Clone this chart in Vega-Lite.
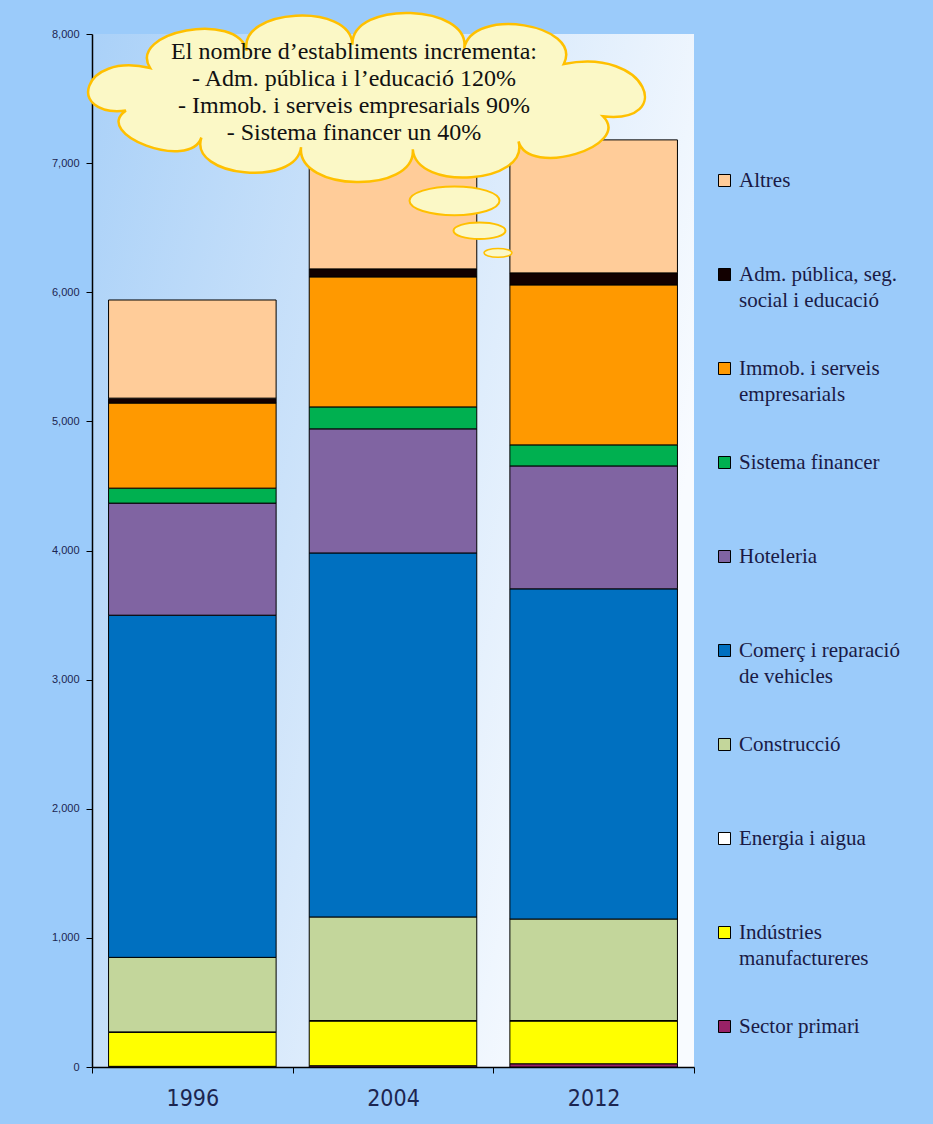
{
  "$schema": "https://vega.github.io/schema/vega-lite/v6.json",
  "width": 602,
  "height": 1033,
  "autosize": {"type": "none"},
  "padding": {"left": 92, "top": 34, "right": 239, "bottom": 57},
  "background": "#9BCBFA",
  "config": {
    "view": {
      "stroke": null,
      "fill": {
        "gradient": "linear", "x1": 0, "y1": 0, "x2": 1, "y2": 0.4,
        "stops": [
          {"offset": 0, "color": "#AAD1F8"},
          {"offset": 0.45, "color": "#CDE3FA"},
          {"offset": 1, "color": "#F8FBFF"}
        ]
      }
    },
    "style": {"guide-label": {"lineHeight": 26}}
  },
  "layer": [
    {
      "data": {
        "values": [
          {"year": "1996", "sector": "Sector primari", "value": 5},
          {"year": "1996", "sector": "Indústries manufactureres", "value": 263},
          {"year": "1996", "sector": "Energia i aigua", "value": 4},
          {"year": "1996", "sector": "Construcció", "value": 577},
          {"year": "1996", "sector": "Comerç i reparació de vehicles", "value": 2650},
          {"year": "1996", "sector": "Hoteleria", "value": 868},
          {"year": "1996", "sector": "Sistema financer", "value": 116},
          {"year": "1996", "sector": "Immob. i serveis empresarials", "value": 659},
          {"year": "1996", "sector": "Adm. pública, seg. social i educació", "value": 38},
          {"year": "1996", "sector": "Altres", "value": 760},
          {"year": "2004", "sector": "Sector primari", "value": 10},
          {"year": "2004", "sector": "Indústries manufactureres", "value": 346},
          {"year": "2004", "sector": "Energia i aigua", "value": 4},
          {"year": "2004", "sector": "Construcció", "value": 802},
          {"year": "2004", "sector": "Comerç i reparació de vehicles", "value": 2819},
          {"year": "2004", "sector": "Hoteleria", "value": 961},
          {"year": "2004", "sector": "Sistema financer", "value": 170},
          {"year": "2004", "sector": "Immob. i serveis empresarials", "value": 1007},
          {"year": "2004", "sector": "Adm. pública, seg. social i educació", "value": 62},
          {"year": "2004", "sector": "Altres", "value": 899},
          {"year": "2012", "sector": "Sector primari", "value": 25},
          {"year": "2012", "sector": "Indústries manufactureres", "value": 331},
          {"year": "2012", "sector": "Energia i aigua", "value": 4},
          {"year": "2012", "sector": "Construcció", "value": 786},
          {"year": "2012", "sector": "Comerç i reparació de vehicles", "value": 2557},
          {"year": "2012", "sector": "Hoteleria", "value": 952},
          {"year": "2012", "sector": "Sistema financer", "value": 163},
          {"year": "2012", "sector": "Immob. i serveis empresarials", "value": 1239},
          {"year": "2012", "sector": "Adm. pública, seg. social i educació", "value": 93},
          {"year": "2012", "sector": "Altres", "value": 1030}
        ]
      },
      "transform": [
        {"calculate": "indexof(['Altres','Adm. pública, seg. social i educació','Immob. i serveis empresarials','Sistema financer','Hoteleria','Comerç i reparació de vehicles','Construcció','Energia i aigua','Indústries manufactureres','Sector primari'], datum.sector)", "as": "ord"}
      ],
      "mark": {"type": "bar", "stroke": "#000000", "strokeWidth": 1, "width": {"band": 0.835}},
      "encoding": {
        "x": {
          "field": "year", "type": "nominal",
          "scale": {"paddingInner": 0, "paddingOuter": 0},
          "axis": {
            "title": null, "labelAngle": 0, "tickBand": "extent", "tickSize": 6,
            "tickColor": "#000000", "domainColor": "#000000", "domainWidth": 1.5,
            "labelFont": "Liberation Sans Narrow, Arial Narrow, DejaVu Sans Condensed, sans-serif",
            "labelFontSize": 23, "labelColor": "#1C2550", "labelPadding": 14
          }
        },
        "y": {
          "field": "value", "type": "quantitative", "stack": "zero",
          "scale": {"domain": [0, 8000], "nice": false},
          "axis": {
            "title": null, "values": [0, 1000, 2000, 3000, 4000, 5000, 6000, 7000, 8000],
            "format": ",d", "grid": false, "tickSize": 6, "tickColor": "#000000",
            "domainColor": "#000000", "domainWidth": 1.5,
            "labelFont": "Liberation Sans, Arial, sans-serif", "labelFontSize": 11,
            "labelColor": "#1C2550", "labelPadding": 7
          }
        },
        "color": {
          "field": "sector", "type": "nominal",
          "scale": {
            "domain": ["Altres", "Adm. pública, seg. social i educació", "Immob. i serveis empresarials", "Sistema financer", "Hoteleria", "Comerç i reparació de vehicles", "Construcció", "Energia i aigua", "Indústries manufactureres", "Sector primari"],
            "range": ["#FFCC99", "#120000", "#FF9900", "#00B050", "#8064A2", "#0070C0", "#C3D69B", "#FFFFFF", "#FFFF00", "#992266"]
          },
          "legend": {
            "title": null, "orient": "none", "legendX": 622, "legendY": 136,
            "symbolType": "square", "symbolSize": 144, "symbolStrokeColor": "#000000",
            "symbolStrokeWidth": 1, "symbolOpacity": 1,
            "labelFont": "Liberation Serif, DejaVu Serif, serif", "labelFontSize": 21,
            "labelColor": "#1A1A45", "labelLimit": 300, "labelOffset": 4,
            "rowPadding": 46, "gridAlign": "all",
            "labelExpr": "datum.label == 'Adm. pública, seg. social i educació' ? ['Adm. pública, seg.', 'social i educació'] : datum.label == 'Immob. i serveis empresarials' ? ['Immob. i serveis', 'empresarials'] : datum.label == 'Comerç i reparació de vehicles' ? ['Comerç i reparació', 'de vehicles'] : datum.label == 'Indústries manufactureres' ? ['Indústries', 'manufactureres'] : datum.label"
          }
        },
        "order": {"field": "ord", "type": "quantitative", "sort": "descending"}
      }
    },
    {
      "data": {"values": [{}]},
      "mark": {
        "type": "point", "filled": true, "opacity": 1,
        "shape": "M0.78,0.064 C0.879,0.163 0.534,0.269 0.5,0.147 C0.539,0.287 0.16,0.315 0.15,0.173 C0.161,0.323 -0.236,0.315 -0.22,0.166 C-0.235,0.3 -0.594,0.265 -0.55,0.134 C-0.588,0.247 -0.915,0.123 -0.8,0.045 C-1.0,0.068 -0.95,-0.15 -0.72,-0.096 C-0.796,-0.218 -0.429,-0.287 -0.4,-0.153 C-0.43,-0.294 -0.053,-0.315 -0.05,-0.173 C-0.054,-0.323 0.345,-0.308 0.32,-0.16 C0.343,-0.301 0.716,-0.242 0.65,-0.109 C0.93,-0.165 1.02,0.09 0.78,0.064 Z",
        "size": 364816, "fill": "#FBF8C6", "stroke": "#FFC000", "strokeWidth": 2.5,
        "xOffset": -25.5
      },
      "encoding": {"x": {"datum": "2004"}, "y": {"datum": 7512}}
    },
    {
      "data": {"values": [{}]},
      "mark": {
        "type": "point", "filled": true, "opacity": 1,
        "shape": "M1,0 C1,0.177 0.552,0.32 0,0.32 C-0.552,0.32 -1,0.177 -1,0 C-1,-0.177 -0.552,-0.32 0,-0.32 C0.552,-0.32 1,-0.177 1,0 Z",
        "size": 8100, "fill": "#FBF8C6", "stroke": "#FFC000", "strokeWidth": 2, "xOffset": 61.5
      },
      "encoding": {"x": {"datum": "2004"}, "y": {"datum": 6708}}
    },
    {
      "data": {"values": [{}]},
      "mark": {
        "type": "point", "filled": true, "opacity": 1,
        "shape": "M1,0 C1,0.177 0.552,0.32 0,0.32 C-0.552,0.32 -1,0.177 -1,0 C-1,-0.177 -0.552,-0.32 0,-0.32 C0.552,-0.32 1,-0.177 1,0 Z",
        "size": 2704, "fill": "#FBF8C6", "stroke": "#FFC000", "strokeWidth": 2, "xOffset": 86.5
      },
      "encoding": {"x": {"datum": "2004"}, "y": {"datum": 6476}}
    },
    {
      "data": {"values": [{}]},
      "mark": {
        "type": "point", "filled": true, "opacity": 1,
        "shape": "M1,0 C1,0.177 0.552,0.32 0,0.32 C-0.552,0.32 -1,0.177 -1,0 C-1,-0.177 -0.552,-0.32 0,-0.32 C0.552,-0.32 1,-0.177 1,0 Z",
        "size": 784, "fill": "#FBF8C6", "stroke": "#FFC000", "strokeWidth": 1.5, "xOffset": 105
      },
      "encoding": {"x": {"datum": "2004"}, "y": {"datum": 6305}}
    },
    {
      "data": {"values": [{}]},
      "mark": {
        "type": "text",
        "text": ["El nombre d’establiments incrementa:", "- Adm. pública i l’educació 120%", "- Immob. i serveis empresarials 90%", "- Sistema financer un 40%"],
        "font": "Liberation Serif, DejaVu Serif, serif", "fontSize": 24, "lineHeight": 27,
        "align": "center", "baseline": "middle", "color": "#111111", "xOffset": -39
      },
      "encoding": {"x": {"datum": "2004"}, "y": {"datum": 7860}}
    }
  ]
}
